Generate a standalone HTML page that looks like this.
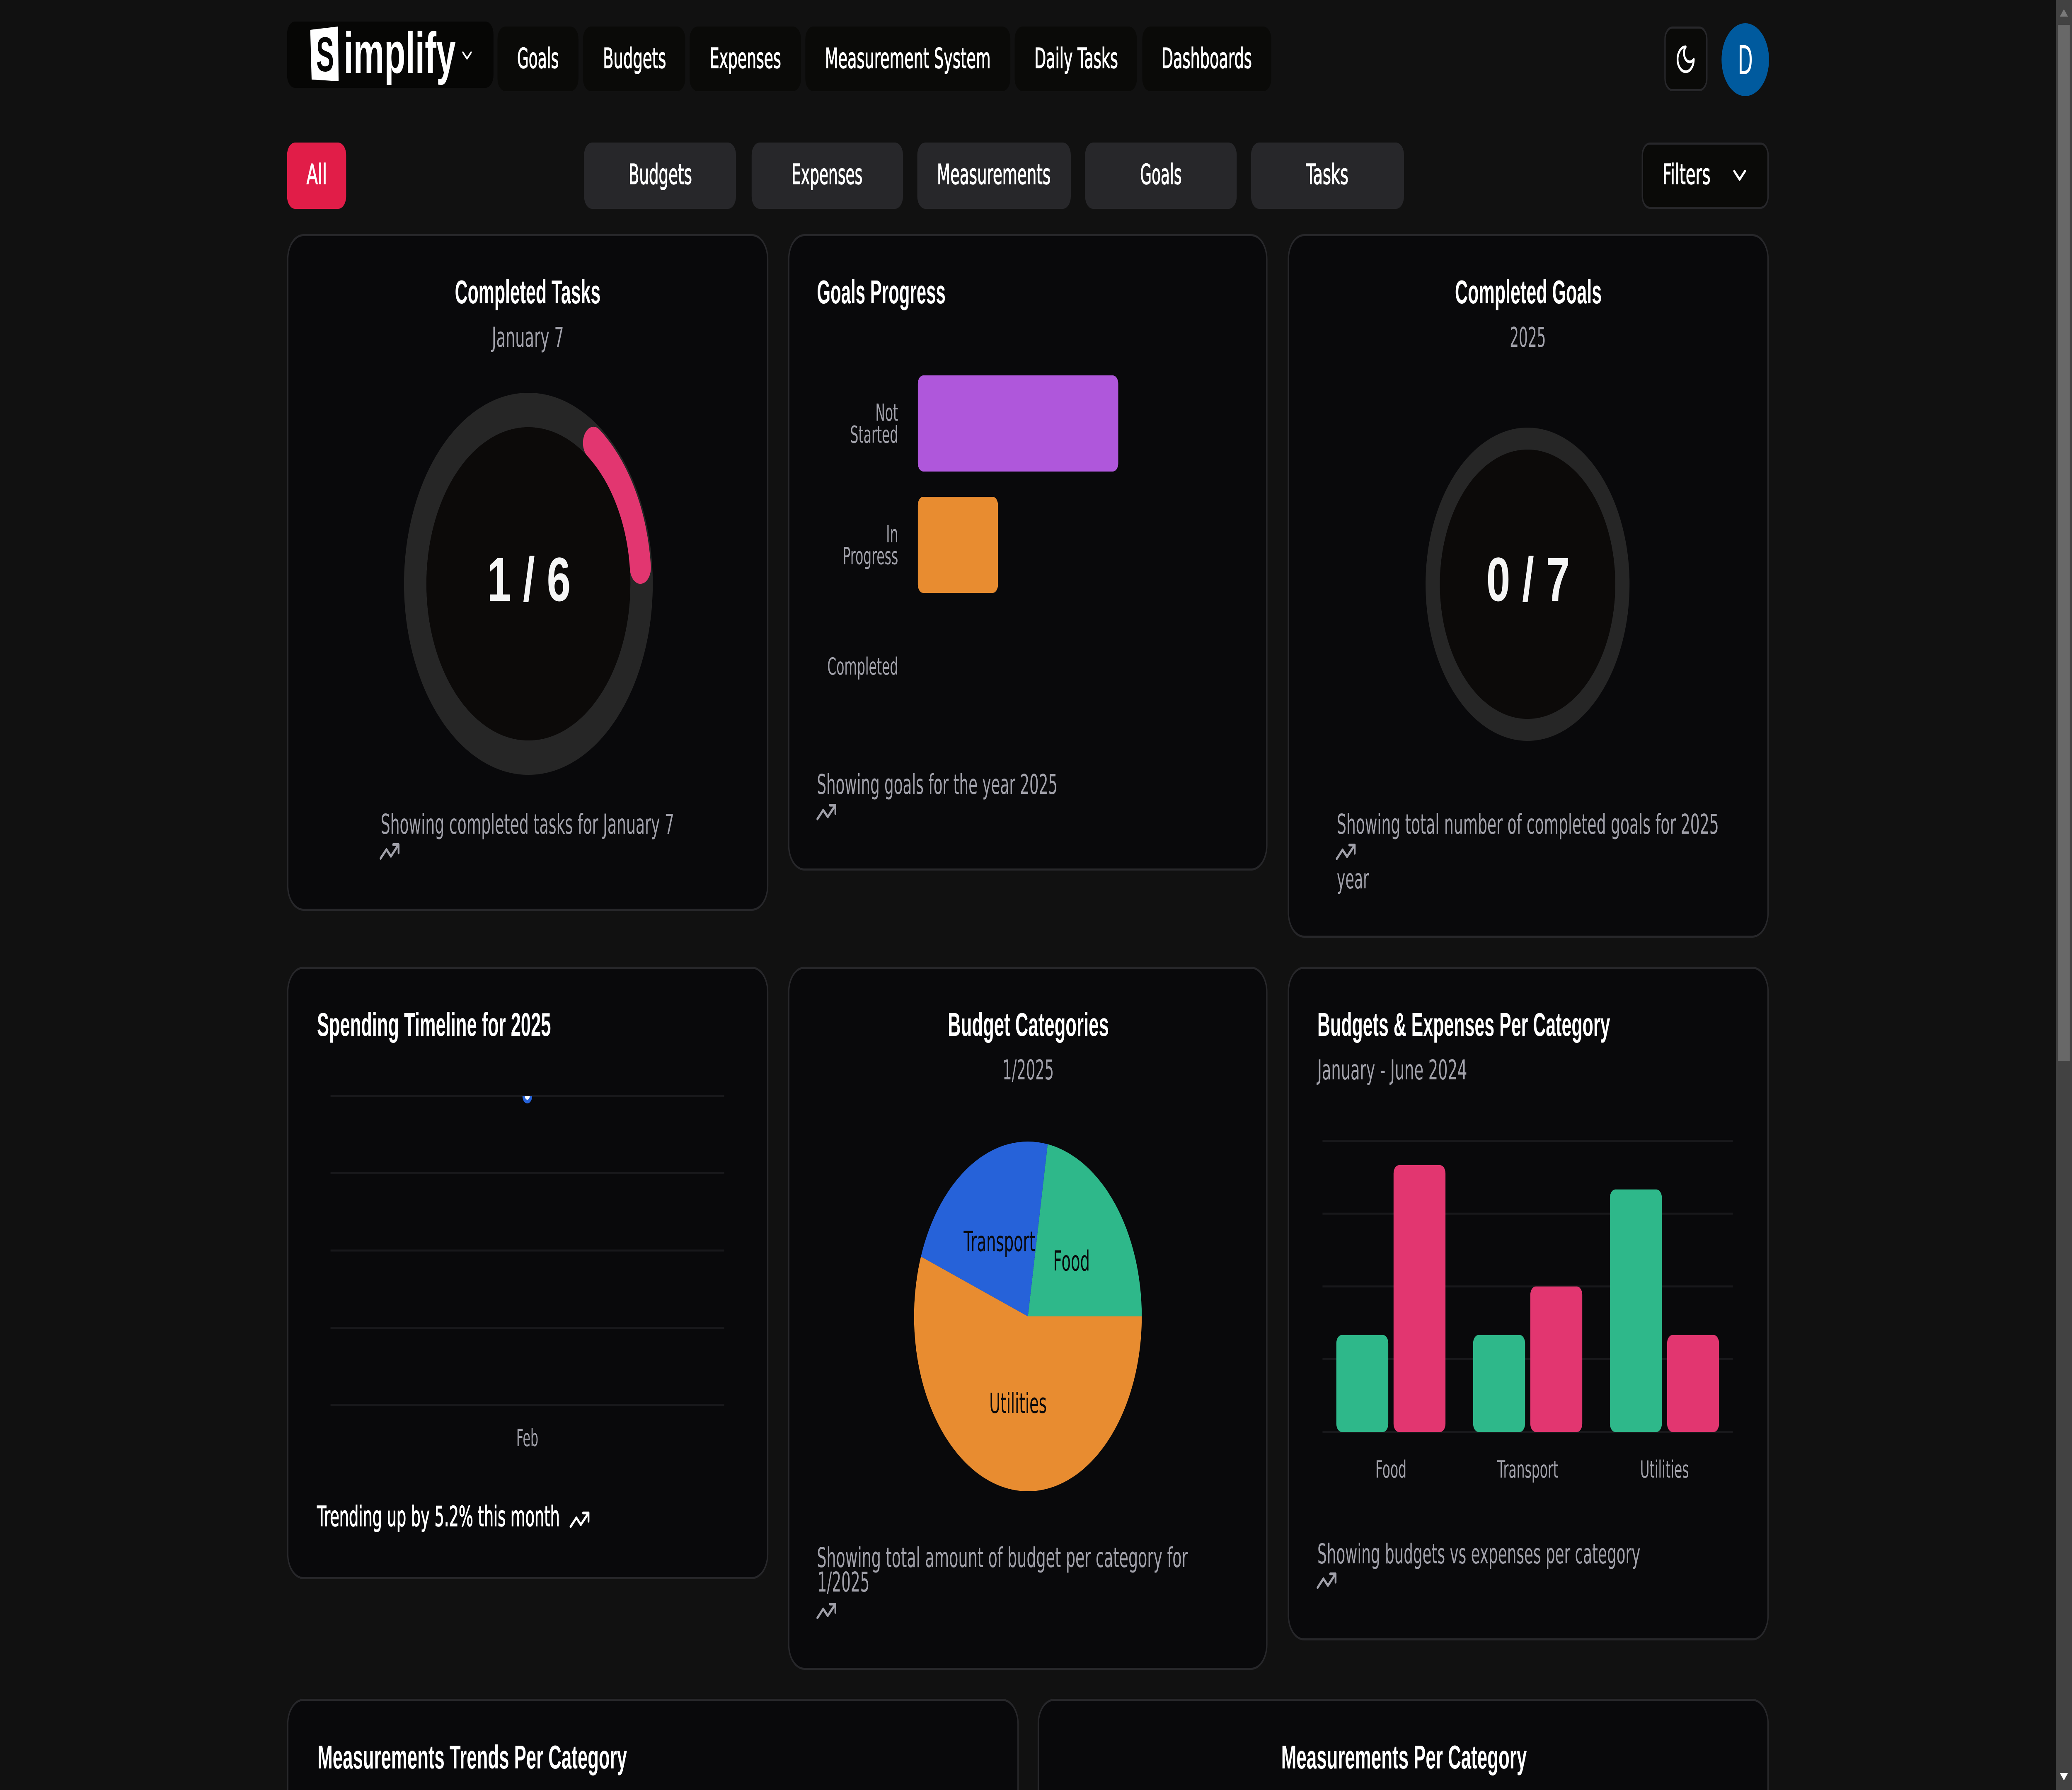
<!DOCTYPE html>
<html lang="en">
<head>
<meta charset="utf-8">
<title>Simplify Dashboard</title>
<style>
  html, body { margin: 0; padding: 0; background: #111111; width: 100%; height: 100%; overflow: hidden; }
  svg#root { display: block; width: 100vw; height: 100vh; }
  text { font-family: "DejaVu Sans", "Liberation Sans", sans-serif; }
  .nav { font-size: 67px; fill: #ffffff; stroke: #ffffff; stroke-width: 1.5; }
  .title { font-family: "Liberation Sans", sans-serif; font-weight: 700; font-size: 80px; fill: #ffffff; }
  .sub { font-size: 66px; fill: #a1a1aa; }
  .tick { font-size: 57px; fill: #a1a1aa; }
  .big { font-family: "Liberation Sans", sans-serif; font-weight: 700; font-size: 150px; fill: #f5f5f5; }
  .slice-label { font-size: 67px; fill: #09090b; }
  .card { fill: #09090b; stroke: #27272a; stroke-width: 5; }
  .navbtn { fill: #0a0a08; }
  .tab { fill: #27272a; }
  .icon { fill: none; stroke-width: 2; stroke-linecap: round; stroke-linejoin: round; }
</style>
</head>
<body>
<svg id="root" xmlns="http://www.w3.org/2000/svg" viewBox="0 0 7680 4320" preserveAspectRatio="none">
  <defs>
    <symbol id="trend" viewBox="0 0 24 24"><polyline points="22 7 13.5 15.5 8.5 10.5 2 17"/><polyline points="16 7 22 7 22 13"/></symbol>
    <symbol id="chev" viewBox="0 0 24 24"><polyline points="6 9 12 15 18 9"/></symbol>
  </defs>
  <rect width="7680" height="4320" fill="#111111"/>

  <!-- Navigation -->
  <g>
    <rect x="1064" y="52" width="765" height="160" rx="30" fill="#060605"/>
    <polygon points="1150,72 1253,64 1255,196 1155,192" fill="#ffffff"/>
    <text x="1172" y="172" class="title" style="font-size:118px;fill:#060605" textLength="66" lengthAdjust="spacingAndGlyphs">S</text>
    <text x="1274" y="176" class="title" style="font-size:140px" textLength="415" lengthAdjust="spacingAndGlyphs">implify</text>
    <svg x="1701" y="104" width="60" height="60" class="icon" stroke="#ffffff"><use href="#chev"/></svg>
  </g>
  <g><rect class="navbtn" x="1844" y="64" width="300" height="156" rx="30"/><text class="nav" x="1917" y="164" textLength="154" lengthAdjust="spacingAndGlyphs">Goals</text></g>
  <g><rect class="navbtn" x="2161" y="64" width="379" height="156" rx="30"/><text class="nav" x="2235" y="164" textLength="234" lengthAdjust="spacingAndGlyphs">Budgets</text></g>
  <g><rect class="navbtn" x="2556" y="64" width="413" height="156" rx="30"/><text class="nav" x="2631" y="164" textLength="264" lengthAdjust="spacingAndGlyphs">Expenses</text></g>
  <g><rect class="navbtn" x="2985" y="64" width="760" height="156" rx="30"/><text class="nav" x="3058" y="164" textLength="614" lengthAdjust="spacingAndGlyphs">Measurement System</text></g>
  <g><rect class="navbtn" x="3761" y="64" width="453" height="156" rx="30"/><text class="nav" x="3834" y="164" textLength="310" lengthAdjust="spacingAndGlyphs">Daily Tasks</text></g>
  <g><rect class="navbtn" x="4234" y="64" width="478" height="156" rx="30"/><text class="nav" x="4305" y="164" textLength="335" lengthAdjust="spacingAndGlyphs">Dashboards</text></g>

  <g>
    <rect x="6171.5" y="66.5" width="155" height="151" rx="28" fill="#0a0a08" stroke="#27272a" stroke-width="5"/>
    <svg x="6208" y="103" width="80" height="80" viewBox="0 0 24 24" class="icon" stroke="#ffffff"><path d="M12 3a6 6 0 0 0 9 9 9 9 0 1 1-9-9Z"/></svg>
  </g>
  <g>
    <circle cx="6469" cy="144" r="88" fill="#005a9e"/>
    <text x="6441" y="179" style="font-size:96px;fill:#ffffff" textLength="56" lengthAdjust="spacingAndGlyphs">D</text>
  </g>

  <!-- Filter tabs -->
  <g><rect x="1064" y="344" width="219" height="160" rx="30" fill="#e11d48"/><text class="nav" x="1136" y="444" textLength="76" lengthAdjust="spacingAndGlyphs">All</text></g>
  <g><rect class="tab" x="2165" y="344" width="563" height="160" rx="30"/><text class="nav" x="2330" y="444" textLength="235" lengthAdjust="spacingAndGlyphs">Budgets</text></g>
  <g><rect class="tab" x="2786" y="344" width="561" height="160" rx="30"/><text class="nav" x="2934" y="444" textLength="263" lengthAdjust="spacingAndGlyphs">Expenses</text></g>
  <g><rect class="tab" x="3400" y="344" width="569" height="160" rx="30"/><text class="nav" x="3473" y="444" textLength="421" lengthAdjust="spacingAndGlyphs">Measurements</text></g>
  <g><rect class="tab" x="4022" y="344" width="562" height="160" rx="30"/><text class="nav" x="4226" y="444" textLength="154" lengthAdjust="spacingAndGlyphs">Goals</text></g>
  <g><rect class="tab" x="4637" y="344" width="567" height="160" rx="30"/><text class="nav" x="4841" y="444" textLength="157" lengthAdjust="spacingAndGlyphs">Tasks</text></g>
  <g>
    <rect x="6087.5" y="346.5" width="466" height="155" rx="28" fill="#0a0a08" stroke="#27272a" stroke-width="5"/>
    <text class="nav" x="6162" y="444" textLength="178" lengthAdjust="spacingAndGlyphs">Filters</text>
    <svg x="6408" y="383" width="80" height="80" class="icon" stroke="#ffffff"><use href="#chev"/></svg>
  </g>

  <!-- Card 1 -->
  <g>
    <rect class="card" x="1066.5" y="567.5" width="1779" height="1628" rx="58"/>
    <text class="title" x="1686" y="732" textLength="540" lengthAdjust="spacingAndGlyphs">Completed Tasks</text>
    <text class="sub" x="1823" y="837" textLength="267" lengthAdjust="spacingAndGlyphs">January 7</text>
    <g id="tasksRing"></g>
    <text class="sub" x="1411" y="2012" textLength="1088" lengthAdjust="spacingAndGlyphs">Showing completed tasks for January 7</text>
    <svg x="1404" y="2015" width="80" height="80" class="icon" stroke="#a1a1aa"><use href="#trend"/></svg>
  </g>

  <!-- Card 2 -->
  <g>
    <rect class="card" x="2923.5" y="567.5" width="1772" height="1531" rx="58"/>
    <text class="title" x="3028" y="732" textLength="477" lengthAdjust="spacingAndGlyphs">Goals Progress</text>
    <g id="goalsChart"></g>
    <text class="sub" x="3028" y="1916" textLength="892" lengthAdjust="spacingAndGlyphs">Showing goals for the year 2025</text>
    <svg x="3023" y="1920" width="80" height="80" class="icon" stroke="#a1a1aa"><use href="#trend"/></svg>
  </g>

  <!-- Card 3 -->
  <g>
    <rect class="card" x="4775.5" y="567.5" width="1778" height="1693" rx="58"/>
    <text class="title" x="5393" y="732" textLength="544" lengthAdjust="spacingAndGlyphs">Completed Goals</text>
    <text class="sub" x="5596" y="837" textLength="134" lengthAdjust="spacingAndGlyphs">2025</text>
    <g id="goalsRing"></g>
    <text class="sub" x="4955" y="2012" textLength="1416" lengthAdjust="spacingAndGlyphs">Showing total number of completed goals for 2025</text>
    <svg x="4948" y="2016" width="80" height="80" class="icon" stroke="#a1a1aa"><use href="#trend"/></svg>
    <text class="sub" x="4955" y="2144" textLength="119" lengthAdjust="spacingAndGlyphs">year</text>
  </g>

  <!-- Card 4 -->
  <g>
    <rect class="card" x="1066.5" y="2335.5" width="1779" height="1473" rx="58"/>
    <text class="title" x="1175" y="2500" textLength="867" lengthAdjust="spacingAndGlyphs">Spending Timeline for 2025</text>
    <g id="spendingChart"></g>
    <text class="nav" x="1175" y="3683" textLength="900" lengthAdjust="spacingAndGlyphs">Trending up by 5.2% this month</text>
    <svg x="2108" y="3628" width="80" height="80" class="icon" stroke="#ffffff"><use href="#trend"/></svg>
  </g>

  <!-- Card 5 -->
  <g>
    <rect class="card" x="2923.5" y="2335.5" width="1772" height="1692" rx="58"/>
    <text class="title" x="3513" y="2500" textLength="597" lengthAdjust="spacingAndGlyphs">Budget Categories</text>
    <text class="sub" x="3716" y="2605" textLength="190" lengthAdjust="spacingAndGlyphs">1/2025</text>
    <g id="pieChart"></g>
    <text class="sub" x="3028" y="3782" textLength="1375" lengthAdjust="spacingAndGlyphs">Showing total amount of budget per category for</text>
    <text class="sub" x="3030" y="3841" textLength="193" lengthAdjust="spacingAndGlyphs">1/2025</text>
    <svg x="3023" y="3848" width="80" height="80" class="icon" stroke="#a1a1aa"><use href="#trend"/></svg>
  </g>

  <!-- Card 6 -->
  <g>
    <rect class="card" x="4775.5" y="2335.5" width="1778" height="1621" rx="58"/>
    <text class="title" x="4883" y="2500" textLength="1085" lengthAdjust="spacingAndGlyphs">Budgets &amp; Expenses Per Category</text>
    <text class="sub" x="4883" y="2605" textLength="555" lengthAdjust="spacingAndGlyphs">January - June 2024</text>
    <g id="barChart"></g>
    <text class="sub" x="4883" y="3773" textLength="1197" lengthAdjust="spacingAndGlyphs">Showing budgets vs expenses per category</text>
    <svg x="4877" y="3775" width="80" height="80" class="icon" stroke="#a1a1aa"><use href="#trend"/></svg>
  </g>

  <!-- Bottom cards (cut off by the frame) -->
  <g>
    <path class="card" d="M1066.5 4320 V4160.5 A58 58 0 0 1 1124.5 4102.5 H3715.5 A58 58 0 0 1 3773.5 4160.5 V4320"/>
    <text class="title" x="1177" y="4268" textLength="1147" lengthAdjust="spacingAndGlyphs">Measurements Trends Per Category</text>
  </g>
  <g>
    <path class="card" d="M3848.5 4320 V4160.5 A58 58 0 0 1 3906.5 4102.5 H6495.5 A58 58 0 0 1 6553.5 4160.5 V4320"/>
    <text class="title" x="4749" y="4268" textLength="910" lengthAdjust="spacingAndGlyphs">Measurements Per Category</text>
  </g>

  <!-- Scrollbar -->
  <g>
    <rect x="7620" y="0" width="60" height="4320" fill="#424242"/>
    <rect x="7628" y="60" width="44" height="2500" fill="#686868"/>
    <polygon points="7650,22 7665,40 7635,40" fill="#7a7a7a"/>
    <polygon points="7635,4279 7665,4279 7650,4297" fill="#ffffff"/>
  </g>
</svg>

<script>
// ---- chart data ----
const tasksDone = [1];
const tasksTotal = [6];
const goalsDone = [0];
const goalsTotal = [7];
const goalStatuses = ['Not Started', 'In Progress', 'Completed'];
const goalCounts = [5, 2, 0];
const goalAxisMax = [7];
const spendingMonths = ['Feb'];
const spendingValues = [100];
const spendingTicks = [0, 25, 50, 75, 100];
const pieCategories = ['Food', 'Transport', 'Utilities'];
const pieBudgets = [200, 200, 500];
const barCategories = ['Food', 'Transport', 'Utilities'];
const barBudgets = [200, 200, 500];
const barExpenses = [550, 300, 200];
const barTicks = [0, 150, 300, 450, 600];

// ---- helpers ----
const NS = 'http://www.w3.org/2000/svg';
const GREEN = '#2eb88a', BLUE = '#2662d9', ORANGE = '#e88c30', PURPLE = '#af57db', PINK = '#e23670';
const GRID = '#18181b';

function mk(parent, tag, attrs, text) {
  const el = document.createElementNS(NS, tag);
  for (const k in attrs) el.setAttribute(k, attrs[k]);
  if (text !== undefined) el.textContent = text;
  parent.appendChild(el);
  return el;
}
function squeeze(el, factor) {
  el.setAttribute('textLength', (el.getComputedTextLength() * factor).toFixed(1));
  el.setAttribute('lengthAdjust', 'spacingAndGlyphs');
}
function polar(cx, cy, r, deg) {
  const a = deg * Math.PI / 180;
  return [cx + r * Math.sin(a), cy - r * Math.cos(a)];
}

// ---- gauges ----
function drawGauge(host, cx, cy, rOuter, rInner, done, total, startDeg) {
  const track = mk(host, 'circle', { cx: cx, cy: cy, r: (rOuter + rInner) / 2, fill: 'none', stroke: '#262626', 'stroke-width': rOuter - rInner });
  
  
  const inner = mk(host, 'circle', { cx: cx, cy: cy, r: rInner, fill: '#0c0a09' });
  
  
  if (done > 0) {
    const r = rOuter - 44, w = 78;
    const inset = (w / 2) / r * 180 / Math.PI;
    const a0 = startDeg + inset, a1 = startDeg + 360 * done / total - inset;
    const p0 = polar(cx, cy, r, a0), p1 = polar(cx, cy, r, a1);
    const arc = mk(host, 'path', {
      d: 'M' + p0[0] + ' ' + p0[1] + ' A' + r + ' ' + r + ' 0 ' + (a1 - a0 > 180 ? 1 : 0) + ' 1 ' + p1[0] + ' ' + p1[1],
      fill: 'none', stroke: PINK, 'stroke-width': w, 'stroke-linecap': 'round'
    });
    
    
  }
  const label = mk(host, 'text', { x: cx + 2, y: 1450, class: 'big', 'text-anchor': 'middle' }, done + ' / ' + total);
  
  
  squeeze(label, 1.06);
}
drawGauge(document.getElementById('tasksRing'), 1958.5, 1409, 461, 378, tasksDone[0], tasksTotal[0], 30);
drawGauge(document.getElementById('goalsRing'), 5662, 1410, 378, 325, goalsDone[0], goalsTotal[0], 30);

// ---- goals horizontal bar chart ----
(function () {
  const host = document.getElementById('goalsChart');
  const x0 = 3402, xRange = 1040, bandTop = 875.5, band = 293, barH = 232;
  const xScale = v => xRange * v / goalAxisMax[0];
  const yCenter = i => bandTop + band * i + band / 2;
  const colors = [PURPLE, ORANGE, GREEN];
  goalStatuses.forEach((status, i) => {
    const lines = status.split(' ');
    lines.forEach((ln, j) => {
      const base = yCenter(i) + 20 - (lines.length - 1) * 26.5 + 53 * j;
      const t = mk(host, 'text', { x: 3329, y: base, class: 'tick', 'text-anchor': 'end' }, ln);
      
      
      squeeze(t, 0.845);
    });
    if (goalCounts[i] > 0) {
      const bar = mk(host, 'rect', { x: x0, y: yCenter(i) - barH / 2, width: xScale(goalCounts[i]), height: barH, rx: 20, fill: colors[i] });
      
      
    }
  });
})();

// ---- spending line chart ----
(function () {
  const host = document.getElementById('spendingChart');
  const x0 = 1225, x1 = 2684, yTop = 2645, yBottom = 3391;
  const maxV = Math.max.apply(null, spendingTicks);
  const yScale = v => yBottom - (yBottom - yTop) * v / maxV;
  const xScale = i => x0 + (x1 - x0) * (i + 0.5) / spendingMonths.length;
  spendingTicks.forEach(t => {
    const line = mk(host, 'line', { x1: x0, x2: x1, y1: yScale(t), y2: yScale(t), stroke: GRID, 'stroke-width': 5 });
    
    
  });
  const defs = mk(host, 'clipPath', { id: 'spendClip' });
  mk(defs, 'rect', { x: x0, y: yTop, width: x1 - x0, height: yBottom - yTop + 30 });
  spendingMonths.forEach((m, i) => {
    const lab = mk(host, 'text', { x: xScale(i), y: 3490, class: 'tick', 'text-anchor': 'middle' }, m);
    
    
    squeeze(lab, 0.81);
    const dot = mk(host, 'circle', { cx: xScale(i), cy: yScale(spendingValues[i]), r: 13.5, fill: '#ffffff', stroke: BLUE, 'stroke-width': 9, 'clip-path': 'url(#spendClip)' });
    
    
  });
})();

// ---- pie chart ----
(function () {
  const host = document.getElementById('pieChart');
  const cx = 3810, cy = 3177, r = 422;
  const colors = [GREEN, BLUE, ORANGE];
  const total = pieBudgets.reduce((a, b) => a + b, 0);
  let start = 0;
  pieBudgets.forEach((v, i) => {
    const sweep = 360 * v / total;
    const a0 = start * Math.PI / 180, a1 = (start + sweep) * Math.PI / 180;
    const d = 'M' + cx + ' ' + cy + ' L' + (cx + r * Math.cos(a0)) + ' ' + (cy - r * Math.sin(a0)) +
      ' A' + r + ' ' + r + ' 0 ' + (sweep > 180 ? 1 : 0) + ' 0 ' + (cx + r * Math.cos(a1)) + ' ' + (cy - r * Math.sin(a1)) + ' Z';
    const slice = mk(host, 'path', { d: d, fill: colors[i] });
    
    
    start += sweep;
  });
  start = 0;
  pieBudgets.forEach((v, i) => {
    const sweep = 360 * v / total;
    const mid = (start + sweep / 2) * Math.PI / 180;
    const lab = mk(host, 'text', { x: cx + r / 2 * Math.cos(mid), y: cy - r / 2 * Math.sin(mid) + 25, class: 'slice-label', 'text-anchor': 'middle' }, pieCategories[i]);
    
    
    squeeze(lab, 0.845);
    start += sweep;
  });
})();

// ---- grouped bar chart ----
(function () {
  const host = document.getElementById('barChart');
  const x0 = 4902, x1 = 6423, yTop = 2753.5, yBottom = 3456;
  const maxV = Math.max.apply(null, barTicks);
  const yScale = v => yBottom - (yBottom - yTop) * v / maxV;
  const band = (x1 - x0) / barCategories.length;
  const barW = 192.5, gap = 19.5;
  barTicks.forEach(t => {
    const line = mk(host, 'line', { x1: x0, x2: x1, y1: yScale(t), y2: yScale(t), stroke: GRID, 'stroke-width': 5 });
    
    
  });
  barCategories.forEach((c, i) => {
    const mid = x0 + band * (i + 0.5);
    const b = mk(host, 'rect', { x: mid - gap / 2 - barW, y: yScale(barBudgets[i]), width: barW, height: yBottom - yScale(barBudgets[i]), rx: 20, fill: GREEN });
    
    
    const e = mk(host, 'rect', { x: mid + gap / 2, y: yScale(barExpenses[i]), width: barW, height: yBottom - yScale(barExpenses[i]), rx: 20, fill: PINK });
    
    
    const lab = mk(host, 'text', { x: mid, y: 3566, class: 'tick', 'text-anchor': 'middle' }, c);
    
    
    squeeze(lab, 0.845);
  });
})();
</script>
</body>
</html>
